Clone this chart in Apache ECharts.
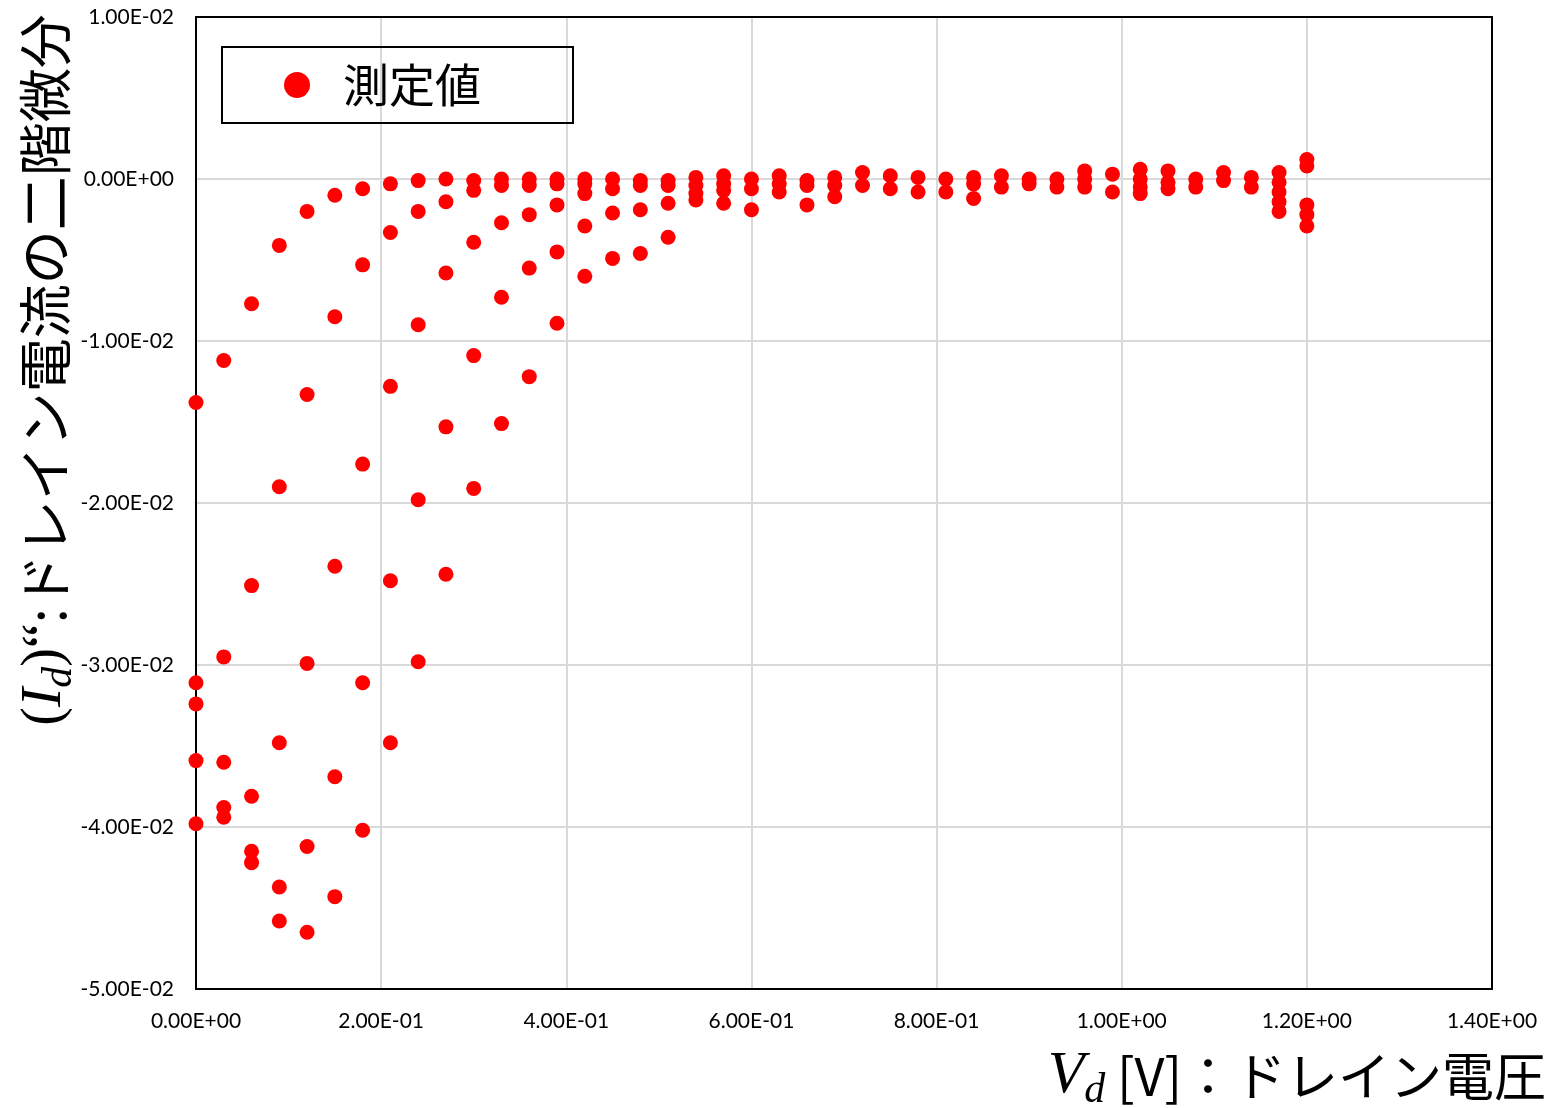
<!DOCTYPE html>
<html>
<head>
<meta charset="utf-8">
<script src="https://cdn.jsdelivr.net/npm/echarts@6/dist/echarts.min.js"></script>
<style>
  html, body { margin: 0; padding: 0; background: #fff; }
  #chart { width: 1554px; height: 1108px; }
</style>
</head>
<body>
<div id="chart"></div>
<script>
// Drain voltage steps [V]
const vd = [0.00, 0.03, 0.06, 0.09, 0.12, 0.15, 0.18, 0.21, 0.24, 0.27,
            0.30, 0.33, 0.36, 0.39, 0.42, 0.45, 0.48, 0.51, 0.54, 0.57,
            0.60, 0.63, 0.66, 0.69, 0.72, 0.75, 0.78, 0.81, 0.84, 0.87,
            0.90, 0.93, 0.96, 0.99, 1.02, 1.05, 1.08, 1.11, 1.14, 1.17, 1.20];

// Second derivative of drain current, measured values at each drain voltage
const d2id = [
  [-0.0138, -0.0311, -0.0324, -0.0359, -0.0398],
  [-0.0112, -0.0295, -0.0360, -0.0388, -0.0394],
  [-0.0077, -0.0251, -0.0381, -0.0415, -0.0422],
  [-0.0041, -0.0190, -0.0348, -0.0437, -0.0458],
  [-0.0020, -0.0133, -0.0299, -0.0412, -0.0465],
  [-0.0010, -0.0085, -0.0239, -0.0369, -0.0443],
  [-0.0006, -0.0053, -0.0176, -0.0311, -0.0402],
  [-0.0003, -0.0033, -0.0128, -0.0248, -0.0348],
  [-0.0001, -0.0020, -0.0090, -0.0198, -0.0298],
  [0.0000, -0.0014, -0.0058, -0.0153, -0.0244],
  [-0.0001, -0.0007, -0.0039, -0.0109, -0.0191],
  [0.0000, -0.0004, -0.0027, -0.0073, -0.0151],
  [0.0000, -0.0004, -0.0022, -0.0055, -0.0122],
  [0.0000, -0.0003, -0.0016, -0.0045, -0.0089],
  [0.0000, -0.0003, -0.0009, -0.0029, -0.0060],
  [0.0000, -0.0006, -0.0021, -0.0049],
  [-0.0001, -0.0004, -0.0019, -0.0046],
  [-0.0001, -0.0004, -0.0015, -0.0036],
  [0.0001, -0.0004, -0.0009, -0.0013],
  [0.0002, -0.0003, -0.0007, -0.0015],
  [0.0000, -0.0006, -0.0019],
  [0.0002, -0.0003, -0.0008],
  [-0.0001, -0.0004, -0.0016],
  [0.0001, -0.0004, -0.0011],
  [0.0004, -0.0004],
  [0.0002, -0.0006],
  [0.0001, -0.0008],
  [0.0000, -0.0008],
  [0.0001, -0.0003, -0.0012],
  [0.0002, -0.0005],
  [0.0000, -0.0003],
  [0.0000, -0.0005],
  [0.0005, 0.0000, -0.0005],
  [0.0003, -0.0008],
  [0.0006, 0.0000, -0.0005, -0.0009],
  [0.0005, -0.0002, -0.0006],
  [0.0000, -0.0005],
  [0.0004, -0.0001],
  [0.0001, -0.0005],
  [0.0004, -0.0002, -0.0008, -0.0014, -0.0020],
  [0.0012, 0.0008, -0.0016, -0.0022, -0.0029]
];

const seriesName = '測定値';

const points = [];
vd.forEach((v, i) => d2id[i].forEach(y => points.push([v, y])));

// Excel-style scientific labels, e.g. 1.00E-02
function sci(val) {
  const s = Number(val).toExponential(2);
  const m = s.match(/^(-?[\d.]+)e([+-])(\d+)$/);
  const exp = m[3].length < 2 ? '0' + m[3] : m[3];
  return m[1] + 'E' + m[2] + exp;
}

const tickFont = { fontFamily: 'Lato', fontSize: 21, color: '#000' };
const cjk = 'Noto Sans CJK JP';
const serif = 'Liberation Serif';
const frame = { show: true, onZero: false, lineStyle: { color: '#000', width: 2 } };
const grid = { color: '#d9d9d9', width: 2 };

const chart = echarts.init(document.getElementById('chart'), null, { renderer: 'canvas' });
chart.setOption({
  backgroundColor: '#fff',
  animation: false,
  grid: { left: 196, top: 17, right: 62, bottom: 119 },
  legend: {
    left: 222, top: 47,
    padding: [15, 92, 15, 62],
    data: [{ name: seriesName, icon: 'circle' }],
    itemWidth: 26, itemHeight: 26,
    borderColor: '#000', borderWidth: 2,
    textStyle: { fontFamily: cjk, fontSize: 46, color: '#000', padding: [0, 0, 0, 28] }
  },
  xAxis: [
    {
      type: 'value', min: 0, max: 1.4, interval: 0.2, position: 'bottom',
      axisLine: frame,
      axisTick: { show: false },
      splitLine: { show: true, lineStyle: grid },
      axisLabel: Object.assign({ margin: 22, formatter: sci }, tickFont)
    },
    {
      type: 'value', min: 0, max: 1.4, interval: 0.2, position: 'top',
      axisLine: frame, axisTick: { show: false },
      axisLabel: { show: false }, splitLine: { show: false }
    }
  ],
  yAxis: [
    {
      type: 'value', min: -0.05, max: 0.01, interval: 0.01, position: 'left',
      axisLine: frame,
      axisTick: { show: false },
      splitLine: { show: true, lineStyle: grid },
      axisLabel: Object.assign({ margin: 22, formatter: sci }, tickFont)
    },
    {
      type: 'value', min: -0.05, max: 0.01, interval: 0.01, position: 'right',
      axisLine: frame, axisTick: { show: false },
      axisLabel: { show: false }, splitLine: { show: false }
    }
  ],
  series: [{
    name: seriesName,
    type: 'scatter',
    data: points,
    symbol: 'circle',
    symbolSize: 15,
    itemStyle: { color: '#ff0000', opacity: 1 }
  }],
  graphic: [
    {
      type: 'text',
      right: 8, top: 1046,
      style: {
        text: '{v|V}{s|d}{n| [V]：ドレイン電圧}',
        rich: {
          v: { fontFamily: serif, fontStyle: 'italic', fontSize: 60, fill: '#000' },
          s: { fontFamily: serif, fontStyle: 'italic', fontSize: 42, fill: '#000', padding: [30, 0, 0, 0] },
          n: { fontFamily: cjk, fontSize: 52, fill: '#000' }
        }
      }
    },
    {
      type: 'text',
      x: 45, y: 370,
      rotation: Math.PI / 2,
      style: {
        text: '{p|(}{v|I}{s|d}{p|)“}{n|:ドレイン電流の二階微分}',
        align: 'center', verticalAlign: 'middle',
        rich: {
          p: { fontFamily: serif, fontSize: 56, fill: '#000' },
          v: { fontFamily: serif, fontStyle: 'italic', fontSize: 58, fill: '#000' },
          s: { fontFamily: serif, fontStyle: 'italic', fontSize: 42, fill: '#000', padding: [30, 0, 0, 0] },
          n: { fontFamily: cjk, fontSize: 54, fill: '#000' }
        }
      }
    }
  ]
});
</script>
</body>
</html>
